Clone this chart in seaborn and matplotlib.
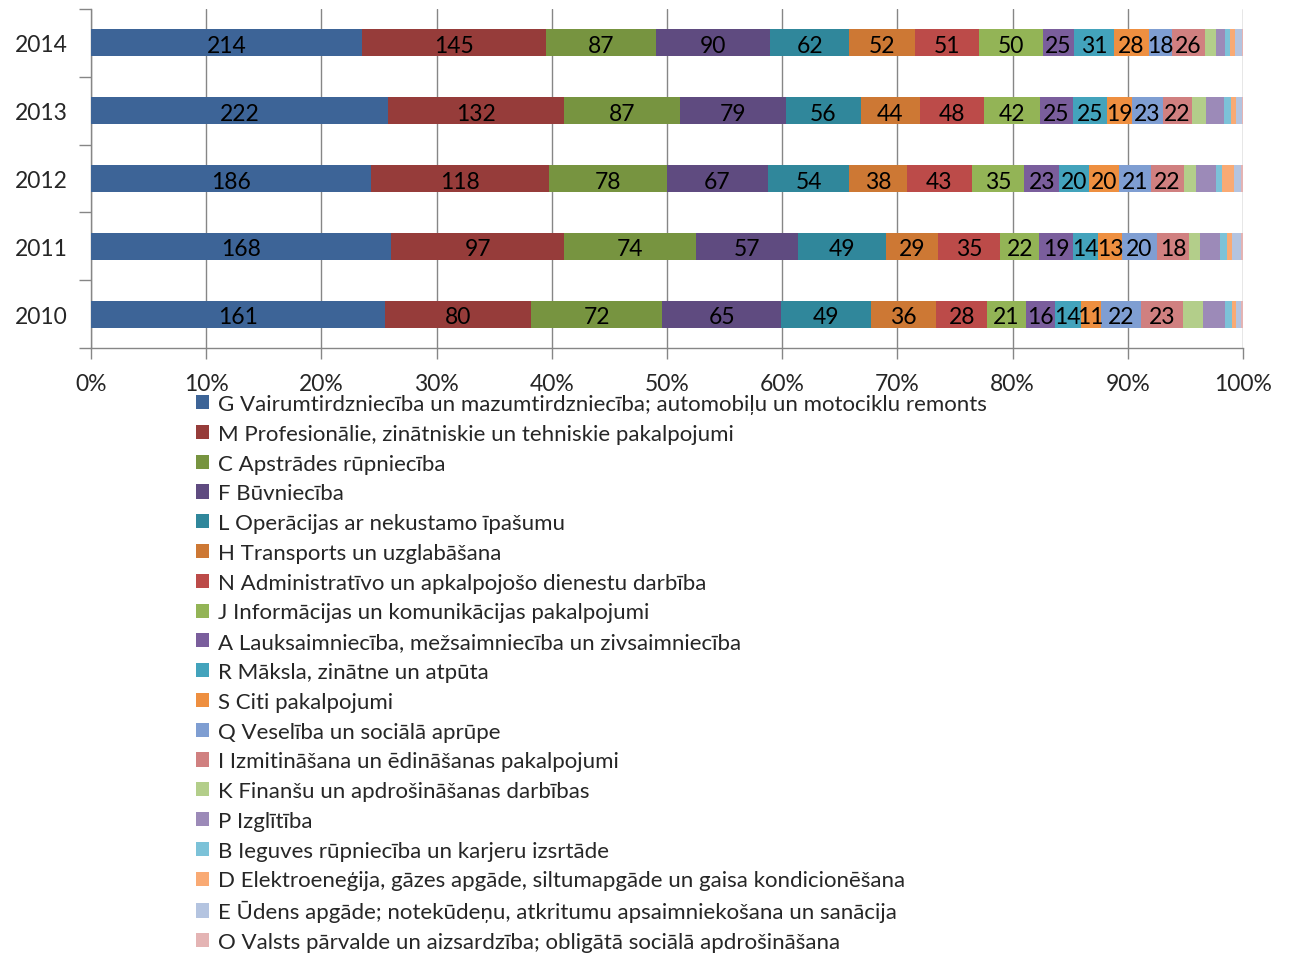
import numpy as np
import pandas as pd
import seaborn as sns
import matplotlib.pyplot as plt

# Gadi (augšā 2014, apakšā 2010)
years = ['2014', '2013', '2012', '2011', '2010']

# Nozaru nosaukumi (leģendas secībā)
sectors = [
    'G Vairumtirdzniecība un mazumtirdzniecība; automobiļu un motociklu remonts',
    'M Profesionālie, zinātniskie un tehniskie pakalpojumi',
    'C Apstrādes rūpniecība',
    'F Būvniecība',
    'L Operācijas ar nekustamo īpašumu',
    'H Transports un uzglabāšana',
    'N Administratīvo un apkalpojošo dienestu darbība',
    'J Informācijas un komunikācijas pakalpojumi',
    'A Lauksaimniecība, mežsaimniecība un zivsaimniecība',
    'R Māksla, zinātne un atpūta',
    'S Citi pakalpojumi',
    'Q Veselība un sociālā aprūpe',
    'I Izmitināšana un ēdināšanas pakalpojumi',
    'K Finanšu un apdrošināšanas darbības',
    'P Izglītība',
    'B Ieguves rūpniecība un karjeru izsrtāde',
    'D Elektroeneģija, gāzes apgāde, siltumapgāde un gaisa kondicionēšana',
    'E Ūdens apgāde; notekūdeņu, atkritumu apsaimniekošana un sanācija',
    'O Valsts pārvalde un aizsardzība; obligātā sociālā apdrošināšana',
]

# Vērtības pa gadiem (2014, 2013, 2012, 2011, 2010)
val_G = [214, 222, 186, 168, 161]
val_M = [145, 132, 118, 97, 80]
val_C = [87, 87, 78, 74, 72]
val_F = [90, 79, 67, 57, 65]
val_L = [62, 56, 54, 49, 49]
val_H = [52, 44, 38, 29, 36]
val_N = [51, 48, 43, 35, 28]
val_J = [50, 42, 35, 22, 21]
val_A = [25, 25, 23, 19, 16]
val_R = [31, 25, 20, 14, 14]
val_S = [28, 19, 20, 13, 11]
val_Q = [18, 23, 21, 20, 22]
val_I = [26, 22, 22, 18, 23]
val_K = [9, 10, 8, 6, 11]
val_P = [7, 14, 13, 11, 12]
val_B = [4, 5, 4, 4, 4]
val_D = [4, 4, 8, 3, 2]
val_E = [5, 4, 5, 5, 3]
val_O = [1, 1, 1, 1, 1]

colors = [
    '#3D6497', '#963C3A', '#779440', '#5F4B80', '#30879B', '#CD7834',
    '#BC4B49', '#93B456', '#7A5E9C', '#43A3BC', '#EE8F40',
    '#7F9ED2', '#D08080', '#B3CE8A', '#9C8AB8', '#7CC2D8', '#F9AA74',
    '#B4C4E0', '#E4B4B4',
]

# cik sērijām rādīt datu etiķetes
n_labeled = 13

all_vals = [val_G, val_M, val_C, val_F, val_L, val_H, val_N, val_J, val_A, val_R,
            val_S, val_Q, val_I, val_K, val_P, val_B, val_D, val_E, val_O]

df = pd.DataFrame(np.array(all_vals).T, columns=sectors)
df.insert(0, 'Gads', years)

sns.set_style('white')
plt.rcParams['font.family'] = ['Lato', 'DejaVu Sans']

fig = plt.figure(figsize=(12.89, 9.54), dpi=100)
ax = fig.add_axes([0.0706, 0.6342, 0.8937, 0.3553])

pct = df[sectors].div(df[sectors].sum(axis=1), axis=0) * 100
cum = pct.cumsum(axis=1)

# uzliekam joslas no garākās kumulatīvās uz īsāko
for i in range(len(sectors) - 1, -1, -1):
    tmp = pd.DataFrame({'Gads': years, 'v': cum[sectors[i]].values})
    sns.barplot(data=tmp, x='v', y='Gads', order=years, color=colors[i],
                saturation=1, width=0.4, ax=ax, label=sectors[i], zorder=3,
                linewidth=0)

# datu etiķetes
for i in range(n_labeled):
    s = sectors[i]
    for j in range(len(years)):
        center = cum[s].iloc[j] - pct[s].iloc[j] / 2
        ax.text(center, j + 0.04, str(df[s].iloc[j]), ha='center', va='center',
                fontsize=16.5, color='black', zorder=4)

ax.set_xlim(0, 100)
ax.set_ylim(4.5, -0.5)
ax.set_xticks(np.arange(0, 101, 10))
ax.set_xticklabels([f'{t}%' for t in range(0, 101, 10)], fontsize=16.5)
ax.tick_params(axis='x', length=8, color='#868686', width=1, pad=10, bottom=True)
ax.tick_params(axis='y', which='major', length=0, labelsize=16.5, pad=17)
ax.set_yticks(np.arange(-0.5, 5, 1), minor=True)
ax.tick_params(axis='y', which='minor', length=9, color='#868686', width=1, left=True)
ax.set_xlabel('')
ax.set_ylabel('')
ax.grid(axis='x', color='#868686', linewidth=1, zorder=0)
ax.set_axisbelow(True)
for side in ['top', 'right']:
    ax.spines[side].set_visible(False)
for side in ['left', 'bottom']:
    ax.spines[side].set_color('#868686')
    ax.spines[side].set_linewidth(1)

# leģenda zem diagrammas
if ax.get_legend() is not None:
    ax.get_legend().remove()
handles, labels = ax.get_legend_handles_labels()
lookup = dict(zip(labels, handles))
fig.legend([lookup[s] for s in sectors], sectors, loc='upper left',
           bbox_to_anchor=(0.152, 0.586), frameon=False, fontsize=16,
           handlelength=0.6, handleheight=0.6, handletextpad=0.4,
           labelspacing=0.44, borderpad=0, borderaxespad=0)

plt.savefig('out.png', dpi=100)
